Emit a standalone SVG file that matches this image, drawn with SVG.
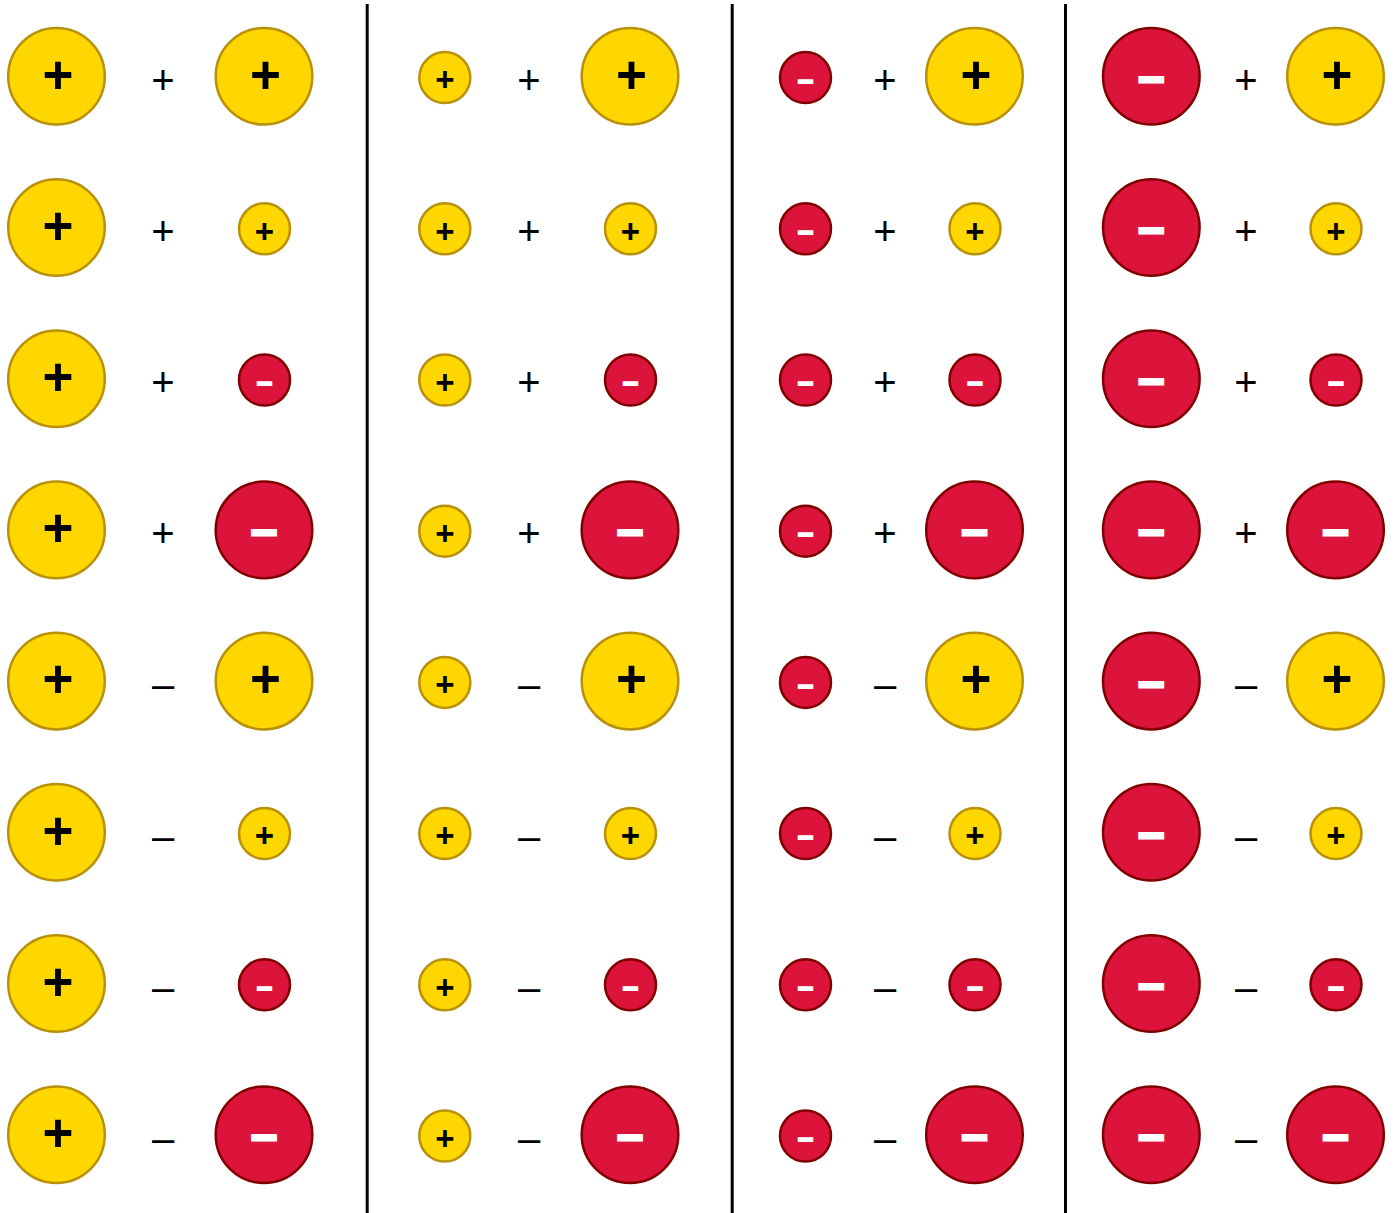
<svg xmlns="http://www.w3.org/2000/svg" width="1395" height="1213" viewBox="0 0 1395 1213">
<style>
.y{fill:#FFD700;stroke:#B8900A;stroke-width:2.5}
.r{fill:#DC143C;stroke:#800000;stroke-width:2.5}
.pb{font-family:"Liberation Sans",Arial,sans-serif;font-weight:bold;font-size:53px;fill:#000;text-anchor:middle}
.ps{font-family:"Liberation Sans",Arial,sans-serif;font-weight:bold;font-size:33px;fill:#000;text-anchor:middle}
.mb{font-family:"Liberation Sans",Arial,sans-serif;font-weight:bold;font-size:46px;fill:#fff;stroke:#fff;stroke-width:3;stroke-linejoin:miter;text-anchor:middle}
.ms{font-family:"Liberation Sans",Arial,sans-serif;font-weight:bold;font-size:27px;fill:#fff;stroke:#fff;stroke-width:2;stroke-linejoin:miter;text-anchor:middle}
.op{font-family:"Liberation Sans",Arial,sans-serif;font-size:40px;fill:#000;text-anchor:middle}
.div{stroke:#000;stroke-width:3}
</style>
<g id="dividers">
<line class="div" x1="367.2" y1="4" x2="367.2" y2="1213"/>
<line class="div" x1="732.2" y1="4" x2="732.2" y2="1213"/>
<line class="div" x1="1065.5" y1="4" x2="1065.5" y2="1213"/>
</g>
<g id="connectors"></g>

<!-- Column 1 -->
<g id="col1">
<g id="c1r1"><g id="c1r1L" transform="translate(56.5,76.3)"><circle r="48.3" class="y"/><text x="1.5" y="16.3" class="pb">+</text></g><text class="op" x="163" y="93.6">+</text><g id="c1r1R" transform="translate(264,76.3)"><circle r="48.3" class="y"/><text x="1.5" y="16.3" class="pb">+</text></g></g>
<g id="c1r2"><g id="c1r2L" transform="translate(56.5,227.5)"><circle r="48.3" class="y"/><text x="1.5" y="16.3" class="pb">+</text></g><text class="op" x="163" y="244.8">+</text><g id="c1r2R" transform="translate(264.5,227.5)"><circle cy="1.3" r="25.5" class="y"/><text y="15.1" class="ps">+</text></g></g>
<g id="c1r3"><g id="c1r3L" transform="translate(56.5,378.7)"><circle r="48.3" class="y"/><text x="1.5" y="16.3" class="pb">+</text></g><text class="op" x="163" y="396">+</text><g id="c1r3R" transform="translate(264.5,378.7)"><circle cy="1.3" r="25.5" class="r"/><text y="12.5" class="ms">–</text></g></g>
<g id="c1r4"><g id="c1r4L" transform="translate(56.5,529.9)"><circle r="48.3" class="y"/><text x="1.5" y="16.3" class="pb">+</text></g><text class="op" x="163" y="547.2">+</text><g id="c1r4R" transform="translate(264,529.9)"><circle r="48.3" class="r"/><text y="15.4" class="mb">–</text></g></g>
<g id="c1r5"><g id="c1r5L" transform="translate(56.5,681.1)"><circle r="48.3" class="y"/><text x="1.5" y="16.3" class="pb">+</text></g><text class="op" x="163" y="698.4">–</text><g id="c1r5R" transform="translate(264,681.1)"><circle r="48.3" class="y"/><text x="1.5" y="16.3" class="pb">+</text></g></g>
<g id="c1r6"><g id="c1r6L" transform="translate(56.5,832.3)"><circle r="48.3" class="y"/><text x="1.5" y="16.3" class="pb">+</text></g><text class="op" x="163" y="849.6">–</text><g id="c1r6R" transform="translate(264.5,832.3)"><circle cy="1.3" r="25.5" class="y"/><text y="15.1" class="ps">+</text></g></g>
<g id="c1r7"><g id="c1r7L" transform="translate(56.5,983.5)"><circle r="48.3" class="y"/><text x="1.5" y="16.3" class="pb">+</text></g><text class="op" x="163" y="1000.8">–</text><g id="c1r7R" transform="translate(264.5,983.5)"><circle cy="1.3" r="25.5" class="r"/><text y="12.5" class="ms">–</text></g></g>
<g id="c1r8"><g id="c1r8L" transform="translate(56.5,1134.7)"><circle r="48.3" class="y"/><text x="1.5" y="16.3" class="pb">+</text></g><text class="op" x="163" y="1152">–</text><g id="c1r8R" transform="translate(264,1134.7)"><circle r="48.3" class="r"/><text y="15.4" class="mb">–</text></g></g>
</g>

<!-- Column 2 -->
<g id="col2">
<g id="c2r1"><g id="c2r1L" transform="translate(444.8,76.3)"><circle cy="1.3" r="25.5" class="y"/><text y="15.1" class="ps">+</text></g><text class="op" x="529" y="93.6">+</text><g id="c2r1R" transform="translate(630,76.3)"><circle r="48.3" class="y"/><text x="1.5" y="16.3" class="pb">+</text></g></g>
<g id="c2r2"><g id="c2r2L" transform="translate(444.8,227.5)"><circle cy="1.3" r="25.5" class="y"/><text y="15.1" class="ps">+</text></g><text class="op" x="529" y="244.8">+</text><g id="c2r2R" transform="translate(630.5,227.5)"><circle cy="1.3" r="25.5" class="y"/><text y="15.1" class="ps">+</text></g></g>
<g id="c2r3"><g id="c2r3L" transform="translate(444.8,378.7)"><circle cy="1.3" r="25.5" class="y"/><text y="15.1" class="ps">+</text></g><text class="op" x="529" y="396">+</text><g id="c2r3R" transform="translate(630.5,378.7)"><circle cy="1.3" r="25.5" class="r"/><text y="12.5" class="ms">–</text></g></g>
<g id="c2r4"><g id="c2r4L" transform="translate(444.8,529.9)"><circle cy="1.3" r="25.5" class="y"/><text y="15.1" class="ps">+</text></g><text class="op" x="529" y="547.2">+</text><g id="c2r4R" transform="translate(630,529.9)"><circle r="48.3" class="r"/><text y="15.4" class="mb">–</text></g></g>
<g id="c2r5"><g id="c2r5L" transform="translate(444.8,681.1)"><circle cy="1.3" r="25.5" class="y"/><text y="15.1" class="ps">+</text></g><text class="op" x="529" y="698.4">–</text><g id="c2r5R" transform="translate(630,681.1)"><circle r="48.3" class="y"/><text x="1.5" y="16.3" class="pb">+</text></g></g>
<g id="c2r6"><g id="c2r6L" transform="translate(444.8,832.3)"><circle cy="1.3" r="25.5" class="y"/><text y="15.1" class="ps">+</text></g><text class="op" x="529" y="849.6">–</text><g id="c2r6R" transform="translate(630.5,832.3)"><circle cy="1.3" r="25.5" class="y"/><text y="15.1" class="ps">+</text></g></g>
<g id="c2r7"><g id="c2r7L" transform="translate(444.8,983.5)"><circle cy="1.3" r="25.5" class="y"/><text y="15.1" class="ps">+</text></g><text class="op" x="529" y="1000.8">–</text><g id="c2r7R" transform="translate(630.5,983.5)"><circle cy="1.3" r="25.5" class="r"/><text y="12.5" class="ms">–</text></g></g>
<g id="c2r8"><g id="c2r8L" transform="translate(444.8,1134.7)"><circle cy="1.3" r="25.5" class="y"/><text y="15.1" class="ps">+</text></g><text class="op" x="529" y="1152">–</text><g id="c2r8R" transform="translate(630,1134.7)"><circle r="48.3" class="r"/><text y="15.4" class="mb">–</text></g></g>
</g>

<!-- Column 3 -->
<g id="col3">
<g id="c3r1"><g id="c3r1L" transform="translate(805.5,76.3)"><circle cy="1.3" r="25.5" class="r"/><text y="12.5" class="ms">–</text></g><text class="op" x="885" y="93.6">+</text><g id="c3r1R" transform="translate(974.5,76.3)"><circle r="48.3" class="y"/><text x="1.5" y="16.3" class="pb">+</text></g></g>
<g id="c3r2"><g id="c3r2L" transform="translate(805.5,227.5)"><circle cy="1.3" r="25.5" class="r"/><text y="12.5" class="ms">–</text></g><text class="op" x="885" y="244.8">+</text><g id="c3r2R" transform="translate(975,227.5)"><circle cy="1.3" r="25.5" class="y"/><text y="15.1" class="ps">+</text></g></g>
<g id="c3r3"><g id="c3r3L" transform="translate(805.5,378.7)"><circle cy="1.3" r="25.5" class="r"/><text y="12.5" class="ms">–</text></g><text class="op" x="885" y="396">+</text><g id="c3r3R" transform="translate(975,378.7)"><circle cy="1.3" r="25.5" class="r"/><text y="12.5" class="ms">–</text></g></g>
<g id="c3r4"><g id="c3r4L" transform="translate(805.5,529.9)"><circle cy="1.3" r="25.5" class="r"/><text y="12.5" class="ms">–</text></g><text class="op" x="885" y="547.2">+</text><g id="c3r4R" transform="translate(974.5,529.9)"><circle r="48.3" class="r"/><text y="15.4" class="mb">–</text></g></g>
<g id="c3r5"><g id="c3r5L" transform="translate(805.5,681.1)"><circle cy="1.3" r="25.5" class="r"/><text y="12.5" class="ms">–</text></g><text class="op" x="885" y="698.4">–</text><g id="c3r5R" transform="translate(974.5,681.1)"><circle r="48.3" class="y"/><text x="1.5" y="16.3" class="pb">+</text></g></g>
<g id="c3r6"><g id="c3r6L" transform="translate(805.5,832.3)"><circle cy="1.3" r="25.5" class="r"/><text y="12.5" class="ms">–</text></g><text class="op" x="885" y="849.6">–</text><g id="c3r6R" transform="translate(975,832.3)"><circle cy="1.3" r="25.5" class="y"/><text y="15.1" class="ps">+</text></g></g>
<g id="c3r7"><g id="c3r7L" transform="translate(805.5,983.5)"><circle cy="1.3" r="25.5" class="r"/><text y="12.5" class="ms">–</text></g><text class="op" x="885" y="1000.8">–</text><g id="c3r7R" transform="translate(975,983.5)"><circle cy="1.3" r="25.5" class="r"/><text y="12.5" class="ms">–</text></g></g>
<g id="c3r8"><g id="c3r8L" transform="translate(805.5,1134.7)"><circle cy="1.3" r="25.5" class="r"/><text y="12.5" class="ms">–</text></g><text class="op" x="885" y="1152">–</text><g id="c3r8R" transform="translate(974.5,1134.7)"><circle r="48.3" class="r"/><text y="15.4" class="mb">–</text></g></g>
</g>

<!-- Column 4 -->
<g id="col4">
<g id="c4r1"><g id="c4r1L" transform="translate(1151.3,76.3)"><circle r="48.3" class="r"/><text y="15.4" class="mb">–</text></g><text class="op" x="1246" y="93.6">+</text><g id="c4r1R" transform="translate(1335.5,76.3)"><circle r="48.3" class="y"/><text x="1.5" y="16.3" class="pb">+</text></g></g>
<g id="c4r2"><g id="c4r2L" transform="translate(1151.3,227.5)"><circle r="48.3" class="r"/><text y="15.4" class="mb">–</text></g><text class="op" x="1246" y="244.8">+</text><g id="c4r2R" transform="translate(1336,227.5)"><circle cy="1.3" r="25.5" class="y"/><text y="15.1" class="ps">+</text></g></g>
<g id="c4r3"><g id="c4r3L" transform="translate(1151.3,378.7)"><circle r="48.3" class="r"/><text y="15.4" class="mb">–</text></g><text class="op" x="1246" y="396">+</text><g id="c4r3R" transform="translate(1336,378.7)"><circle cy="1.3" r="25.5" class="r"/><text y="12.5" class="ms">–</text></g></g>
<g id="c4r4"><g id="c4r4L" transform="translate(1151.3,529.9)"><circle r="48.3" class="r"/><text y="15.4" class="mb">–</text></g><text class="op" x="1246" y="547.2">+</text><g id="c4r4R" transform="translate(1335.5,529.9)"><circle r="48.3" class="r"/><text y="15.4" class="mb">–</text></g></g>
<g id="c4r5"><g id="c4r5L" transform="translate(1151.3,681.1)"><circle r="48.3" class="r"/><text y="15.4" class="mb">–</text></g><text class="op" x="1246" y="698.4">–</text><g id="c4r5R" transform="translate(1335.5,681.1)"><circle r="48.3" class="y"/><text x="1.5" y="16.3" class="pb">+</text></g></g>
<g id="c4r6"><g id="c4r6L" transform="translate(1151.3,832.3)"><circle r="48.3" class="r"/><text y="15.4" class="mb">–</text></g><text class="op" x="1246" y="849.6">–</text><g id="c4r6R" transform="translate(1336,832.3)"><circle cy="1.3" r="25.5" class="y"/><text y="15.1" class="ps">+</text></g></g>
<g id="c4r7"><g id="c4r7L" transform="translate(1151.3,983.5)"><circle r="48.3" class="r"/><text y="15.4" class="mb">–</text></g><text class="op" x="1246" y="1000.8">–</text><g id="c4r7R" transform="translate(1336,983.5)"><circle cy="1.3" r="25.5" class="r"/><text y="12.5" class="ms">–</text></g></g>
<g id="c4r8"><g id="c4r8L" transform="translate(1151.3,1134.7)"><circle r="48.3" class="r"/><text y="15.4" class="mb">–</text></g><text class="op" x="1246" y="1152">–</text><g id="c4r8R" transform="translate(1335.5,1134.7)"><circle r="48.3" class="r"/><text y="15.4" class="mb">–</text></g></g>
</g>
</svg>
